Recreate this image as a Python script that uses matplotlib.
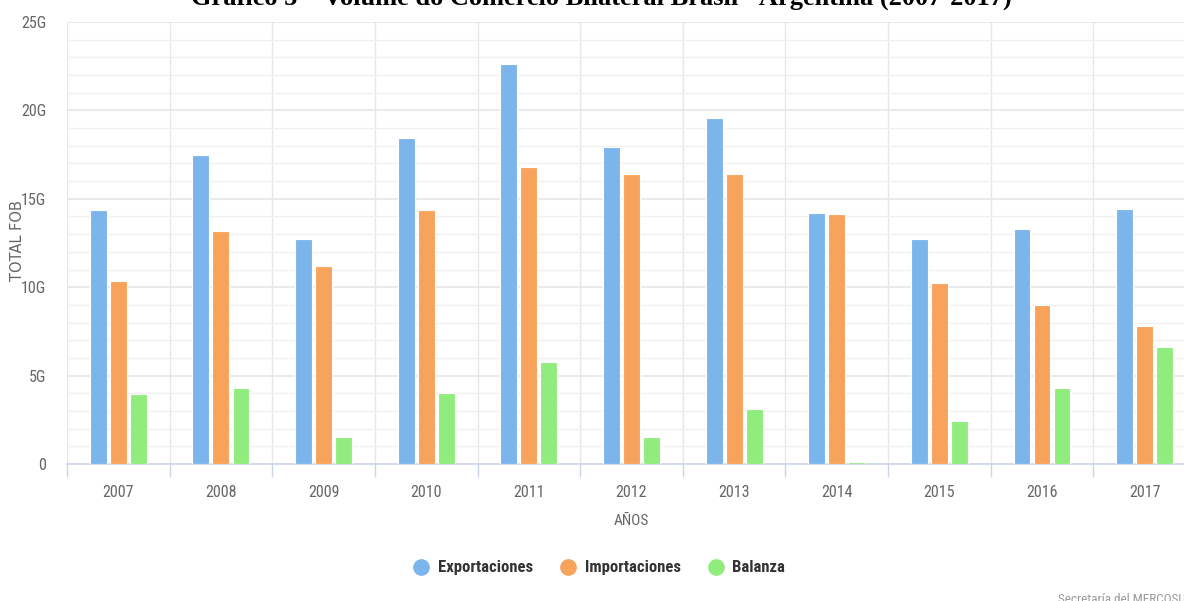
import numpy as np
import matplotlib
matplotlib.use("Agg")
import matplotlib.pyplot as plt
from matplotlib.lines import Line2D
from matplotlib import font_manager

# Comercio bilateral Brasil - Argentina (miles de millones USD)
anios = ["2007", "2008", "2009", "2010", "2011", "2012", "2013", "2014", "2015", "2016", "2017"]
exportaciones = [14.37, 17.48, 12.73, 18.44, 22.62, 17.93, 19.57, 14.20, 12.73, 13.29, 14.42]
importaciones = [10.35, 13.18, 11.20, 14.37, 16.80, 16.40, 16.40, 14.14, 10.24, 9.00, 7.80]
balanza = [3.96, 4.30, 1.53, 4.02, 5.77, 1.53, 3.11, 0.11, 2.43, 4.30, 6.62]

series = ["Exportaciones", "Importaciones", "Balanza"]
colores = ["#7cb5ec", "#f7a35c", "#90ed7d"]
yticks = [0, 5, 10, 15, 20, 25]
ytick_labels = ["0", "5G", "10G", "15G", "20G", "25G"]

# fuente estrecha si existe alguna instalada
nombres = {f.name for f in font_manager.fontManager.ttflist}
estrechas = [n for n in ["Liberation Sans Narrow", "DejaVu Sans Condensed", "Roboto Condensed"] if n in nombres]
fuente = (estrechas[:1] or []) + ["DejaVu Sans"]
estiro = "condensed"

gris = "#666666"

fig = plt.figure(figsize=(11.84, 6.01), dpi=100)
ax = fig.add_axes([0.0566, 0.228, 0.9535, 0.7354])

x = np.arange(len(anios))
ancho = 0.165
paso = 0.195
for i, (vals, col) in enumerate(zip([exportaciones, importaciones, balanza], colores)):
    ax.bar(x + (i - 1) * paso, vals, width=ancho, color=col, edgecolor="white",
           linewidth=0.8, zorder=3)

ax.set_xlim(-0.5, len(anios) - 0.5)
ax.set_ylim(0, 25)

# rejilla horizontal (mayor cada 5G, menor cada 1G)
ax.set_yticks(yticks)
ax.set_yticklabels(ytick_labels, fontsize=11.5, color=gris, family=fuente, stretch=estiro)
ax.set_yticks(np.arange(0, 26, 1), minor=True)
ax.grid(axis="y", which="major", color="#e6e6e6", linewidth=1.2, zorder=0)
ax.grid(axis="y", which="minor", color="#f0f0f0", linewidth=1.0, zorder=0)
ax.tick_params(axis="y", which="both", length=0, pad=15)

# líneas verticales en los límites de cada año
for b in np.arange(-0.5, len(anios), 1):
    ax.axvline(b, color="#e6e6e6", linewidth=1.0, zorder=0)
    ax.plot([b, b], [0, -0.7], color="#ccd6eb", linewidth=1.0, clip_on=False, zorder=2)

ax.set_xticks(x)
ax.set_xticklabels(anios, fontsize=11.5, color=gris, family=fuente, stretch=estiro)
ax.tick_params(axis="x", length=0, pad=15)

for s in ["top", "right", "left"]:
    ax.spines[s].set_visible(False)
ax.spines["bottom"].set_color("#ccd6eb")
ax.spines["bottom"].set_linewidth(1.2)

ax.set_xlabel("AÑOS", fontsize=11, color=gris, family=fuente, stretch=estiro, labelpad=10)
fig.text(0.015, 0.60, "TOTAL FOB", rotation=90, fontsize=10.5, color=gris,
         ha="center", va="center", family="DejaVu Sans")

# leyenda con marcadores circulares
handles = [Line2D([0], [0], marker="o", linestyle="none", markersize=11,
                  markerfacecolor=c, markeredgecolor=c) for c in colores]
leg = fig.legend(handles, series, loc="center", bbox_to_anchor=(0.506, 0.055),
                 ncol=3, frameon=False, handlelength=1.0, handletextpad=0.5,
                 columnspacing=1.6,
                 prop={"family": fuente, "size": 12, "weight": "bold", "stretch": estiro})
for t in leg.get_texts():
    t.set_color("#333333")

fig.text(0.894, -0.008, "Secretaría del MERCOSUR", ha="left", va="bottom",
         fontsize=9.5, color="#999999", family=fuente, stretch=estiro)

fig.text(0.508, 1.003, "Gráfico 5 – Volume do Comércio Bilateral Brasil - Argentina (2007-2017)",
         ha="center", va="center", fontsize=19, weight="bold", family="Liberation Serif")

fig.savefig("out.png", dpi=100)
